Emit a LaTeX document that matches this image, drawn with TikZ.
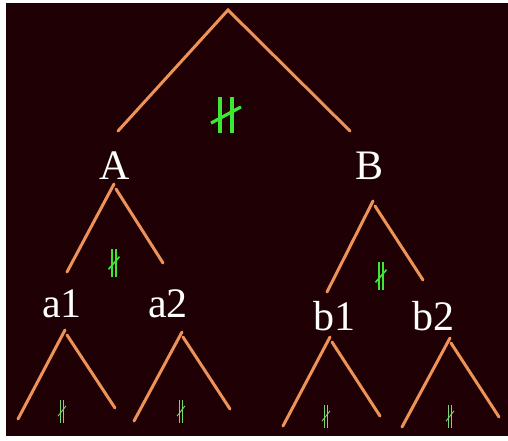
\documentclass[tikz,border=0pt]{standalone}
\usepackage{fontspec}
\setmainfont{Liberation Serif}
\definecolor{bgdark}{RGB}{30,0,5}
\definecolor{branch}{RGB}{238,146,88}
\definecolor{tickgreen}{RGB}{60,232,50}
\definecolor{ticklight}{RGB}{120,215,110}
\tikzset{
  branch/.style={draw=branch, line width=3pt, line cap=round},
  treelabel/.style={text=white, font=\fontsize{42}{50}\selectfont, inner sep=0pt},
  notequal/.pic={
    \draw (-1,-1) -- (-1,1);
    \draw (1,-1) -- (1,1);
    \draw (-2.5,0.45) -- (2.5,-0.45);
  }
}
\begin{document}
\begin{tikzpicture}[x=1pt, y=-1pt]
        \useasboundingbox (0,0) rectangle (508,440);
        \fill[white] (0,0) rectangle (508,440);
        \fill[bgdark] (6,3) rectangle (508,436);
        % top split
        \coordinate (root) at (228,10);
        \coordinate (rootL) at (118,131);
        \coordinate (rootR) at (350,131);
        \draw[branch] (rootL) -- (root) -- (rootR);
        \pic[color=tickgreen, line width=3.2pt, xscale=6, yscale=18] at (226,115) {notequal};
        % left subtree
        \node[treelabel] (A) at (115,166) {A};
        \coordinate (AtopL) at (114,184);
        \coordinate (AtopR) at (116,189);
        \coordinate (AendL) at (67,272);
        \coordinate (AendR) at (163,263);
        \draw[branch] (AtopL) -- (AendL);
        \draw[branch] (AtopR) -- (AendR);
        \pic[color=tickgreen, line width=1.6pt, xscale=2.2, yscale=14] at (114,263) {notequal};
        % right subtree
        \node[treelabel] (B) at (370,166) {B};
        \coordinate (BtopL) at (373,201);
        \coordinate (BtopR) at (375,206);
        \coordinate (BendL) at (327,292);
        \coordinate (BendR) at (423,280);
        \draw[branch] (BtopL) -- (BendL);
        \draw[branch] (BtopR) -- (BendR);
        \pic[color=tickgreen, line width=1.6pt, xscale=2.2, yscale=14] at (381,276) {notequal};
        % leaves
        \node[treelabel] (a1) at (62,304) {a1};
        \node[treelabel] (a2) at (168,304) {a2};
        \node[treelabel] (b1) at (334,316) {b1};
        \node[treelabel] (b2) at (433,316) {b2};
        \coordinate (a1topL) at (65,330);  \coordinate (a1endL) at (18,419);
        \coordinate (a1topR) at (67,335);  \coordinate (a1endR) at (115,408);
        \coordinate (a2topL) at (182,332); \coordinate (a2endL) at (134,421);
        \coordinate (a2topR) at (183,337); \coordinate (a2endR) at (230,409);
        \coordinate (b1topL) at (330,337); \coordinate (b1endL) at (283,426);
        \coordinate (b1topR) at (332,342); \coordinate (b1endR) at (380,416);
        \coordinate (b2topL) at (450,338); \coordinate (b2endL) at (402,427);
        \coordinate (b2topR) at (451,343); \coordinate (b2endR) at (499,417);
        \foreach \leaf in {a1,a2,b1,b2} {
          \draw[branch] (\leaf topL) -- (\leaf endL);
          \draw[branch] (\leaf topR) -- (\leaf endR);
        }
        \foreach \x/\y in {62/411, 181/411, 326/416, 450/416}
          \pic[color=ticklight, line width=0.9pt, xscale=1.6, yscale=11.5] at (\x,\y) {notequal};
    \end{tikzpicture}
\end{document}
